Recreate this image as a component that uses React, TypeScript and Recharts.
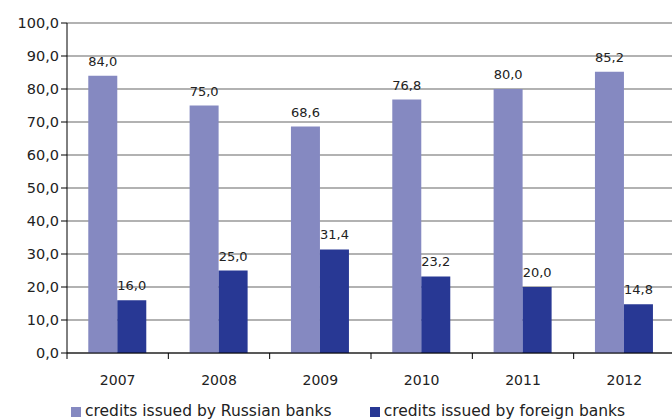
import { BarChart, Bar, XAxis, YAxis, CartesianGrid, LabelList, Legend } from 'recharts'

const years = ['2007', '2008', '2009', '2010', '2011', '2012']
const russianBanks = [84.0, 75.0, 68.6, 76.8, 80.0, 85.2]
const foreignBanks = [16.0, 25.0, 31.4, 23.2, 20.0, 14.8]
const yTicks = [0, 10, 20, 30, 40, 50, 60, 70, 80, 90, 100]

const data = years.map((y, i) => ({ year: y, russian: russianBanks[i], foreign: foreignBanks[i] }))

const FONT = '"DejaVu Sans", sans-serif'
const fmt = (v: any) => Number(v).toFixed(1).replace('.', ',')

function YearTick(props: any) {
  const { x, y, payload, index } = props
  const off = payload.offset || 0
  return (
    <g>
      <line x1={x - off} x2={x - off} y1={y - 8} y2={y - 2} stroke="#000" />
      {index === years.length - 1 && <line x1={x + off} x2={x + off} y1={y - 8} y2={y - 2} stroke="#000" />}
      <text x={x} y={y + 24} textAnchor="middle" fontSize={14} fill="#222" fontFamily={FONT}>
        {payload.value}
      </text>
    </g>
  )
}

export default function App() {
  return (
    <div style={{ position: 'absolute', left: 0, top: 0, width: 672, height: 420, overflow: 'hidden', background: '#fff' }}>
      <BarChart
        width={682}
        height={420}
        data={data}
        margin={{ top: 23, right: 7, bottom: 9, left: 0 }}
        barGap={0}
        barCategoryGap="21%"
      >
        <CartesianGrid vertical={false} stroke="#999" strokeWidth={1.5} />
        <XAxis
          dataKey="year"
          stroke="#000"
          tickLine={false}
          tick={<YearTick />}
          height={40}
          interval={0}
        />
        <YAxis
          domain={[0, 100]}
          ticks={yTicks}
          interval={0}
          stroke="#000"
          tickSize={6}
          width={67}
          tickFormatter={fmt}
          tick={{ fontSize: 14.5, fill: '#222', fontFamily: FONT }}
        />
        <Legend
          verticalAlign="bottom"
          align="left"
          iconType="square"
          iconSize={10}
          wrapperStyle={{ fontFamily: FONT, fontSize: 15.5, color: '#222', bottom: 0, left: 0, paddingLeft: 71 }}
          formatter={(v: any) => <span style={{ color: '#222', marginRight: 28 }}>{v}</span>}
        />
        <Bar dataKey="russian" name="credits issued by Russian banks" fill="#8589C1" isAnimationActive={false}>
          <LabelList dataKey="russian" position="top" offset={10} formatter={fmt} style={{ fontSize: 13, fill: '#222', fontFamily: FONT }} />
        </Bar>
        <Bar dataKey="foreign" name="credits issued by foreign banks" fill="#283894" isAnimationActive={false}>
          <LabelList dataKey="foreign" position="top" offset={10} formatter={fmt} style={{ fontSize: 13, fill: '#222', fontFamily: FONT }} />
        </Bar>
      </BarChart>
    </div>
  )
}
